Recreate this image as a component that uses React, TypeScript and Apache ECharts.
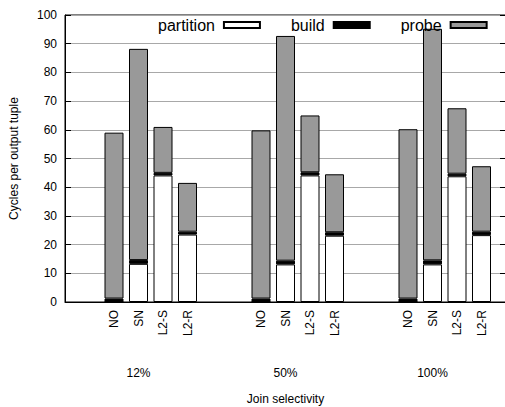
import React, { useEffect, useRef } from "react";
import * as echarts from "echarts";

const groups = ["12%", "50%", "100%"];
const methods = ["NO", "SN", "L2-S", "L2-R"];
const partition = [0, 13.3, 44.1, 23.5, 0, 13.1, 44.1, 23.1, 0, 13.1, 43.8, 23.3];
const build = [1.2, 1.3, 0.9, 1.0, 1.2, 1.3, 1.1, 1.2, 1.2, 1.4, 0.9, 1.2];
const probe = [57.8, 73.6, 16.0, 17.0, 58.6, 78.3, 19.8, 20.2, 59.0, 80.7, 22.8, 22.8];
const yTicks = [0, 10, 20, 30, 40, 50, 60, 70, 80, 90, 100];

const FONT = "'Liberation Sans', Arial, Helvetica, sans-serif";
const GAP = 2; // empty slots between groups
const SLOTS_PER_GROUP = methods.length + GAP;
const LEAD = 2; // empty slots before first group
const TOTAL_SLOTS = LEAD + groups.length * SLOTS_PER_GROUP - GAP + 1;

const slotMethod: string[] = new Array(TOTAL_SLOTS).fill("");
const slotGroup: string[] = new Array(TOTAL_SLOTS).fill("");
const slotIndex: number[] = new Array(TOTAL_SLOTS).fill(-1);
groups.forEach((g, gi) => {
  methods.forEach((m, mi) => {
    const s = LEAD + gi * SLOTS_PER_GROUP + mi;
    slotMethod[s] = m;
    slotIndex[s] = gi * methods.length + mi;
  });
  slotGroup[LEAD + gi * SLOTS_PER_GROUP + 1] = g;
});
const slotKeys = slotMethod.map((_, i) => "s" + i);

function seriesData(values: number[]) {
  return slotIndex.map((idx) => (idx < 0 ? "-" : values[idx]));
}

export default function App() {
  const ref = useRef<HTMLDivElement>(null);
  useEffect(() => {
    if (!ref.current) return;
    const chart = echarts.init(ref.current, null, { renderer: "svg" });
    const barStyle = (color: string) => ({
      color,
      borderColor: "#000",
      borderWidth: 1,
    });
    chart.setOption({
      animation: false,
      textStyle: { fontFamily: FONT },
      grid: {
        left: 65,
        top: 15,
        width: 441,
        height: 287,
        show: true,
        borderColor: "#000",
        borderWidth: 1,
        backgroundColor: "transparent",
        containLabel: false,
        outerBoundsMode: "none",
      },
      legend: {
        left: 153,
        top: 12,
        align: "right",
        icon: "rect",
        itemWidth: 36,
        itemHeight: 6,
        itemGap: 30,
        textStyle: { fontFamily: FONT, fontSize: 16, color: "#000", padding: [0, 4, 0, 0] },
        data: ["partition", "build", "probe"],
      },
      xAxis: [
        {
          type: "category",
          data: slotKeys,
          boundaryGap: false,
          axisLine: { show: true, onZero: false, lineStyle: { color: "#000" } },
          axisTick: { show: false },
          splitLine: { show: false },
          axisLabel: {
            interval: 0,
            rotate: 90,
            margin: 8,
            fontSize: 12,
            color: "#000",
            fontFamily: FONT,
            formatter: (_v: string, i: number) => slotMethod[i] ?? "",
          },
        },
        {
          type: "category",
          data: slotKeys,
          boundaryGap: false,
          position: "bottom",
          offset: 57,
          axisLine: { show: false, onZero: false },
          axisTick: { show: false },
          splitLine: { show: false },
          axisLabel: {
            interval: 0,
            margin: 8,
            fontSize: 12,
            color: "#000",
            fontFamily: FONT,
            formatter: (_v: string, i: number) => slotGroup[i] ?? "",
          },
          name: "Join selectivity",
          nameLocation: "middle",
          nameGap: 34,
          nameTextStyle: { fontSize: 12, color: "#000", fontFamily: FONT },
        },
      ],
      yAxis: [
        {
          type: "value",
          min: 0,
          max: 100,
          interval: 10,
          axisLine: { show: true, onZero: false, lineStyle: { color: "#000" } },
          axisTick: { show: true, inside: true, length: 6, lineStyle: { color: "#000" } },
          splitLine: { show: true, lineStyle: { color: "#a8a8a8", width: 1 } },
          axisLabel: {
            margin: 8,
            fontSize: 12,
            color: "#000",
            fontFamily: FONT,
            formatter: (v: number) => (yTicks.includes(v) ? String(v) : ""),
          },
          name: "Cycles per output tuple",
          nameLocation: "middle",
          nameGap: 45,
          nameTextStyle: { fontSize: 12, color: "#000", fontFamily: FONT },
        },
        {
          type: "value",
          position: "right",
          offset: 1,
          min: 0,
          max: 100,
          interval: 10,
          axisLine: { show: true, onZero: false, lineStyle: { color: "#000" } },
          axisTick: { show: true, inside: true, length: 7, lineStyle: { color: "#000" } },
          splitLine: { show: false },
          axisLabel: { show: false },
        },
      ],
      series: [
        { name: "partition", type: "bar", stack: "t", barWidth: 19, data: seriesData(partition), itemStyle: barStyle("#ffffff") },
        { name: "build", type: "bar", stack: "t", barWidth: 19, data: seriesData(build), itemStyle: barStyle("#000000") },
        { name: "probe", type: "bar", stack: "t", barWidth: 19, data: seriesData(probe), itemStyle: barStyle("#999999") },
      ],
    });
    return () => chart.dispose();
  }, []);
  return (
    <div
      ref={ref}
      style={{ position: "absolute", left: 0, top: 0, width: 505, height: 407, background: "#fff" }}
    />
  );
}
